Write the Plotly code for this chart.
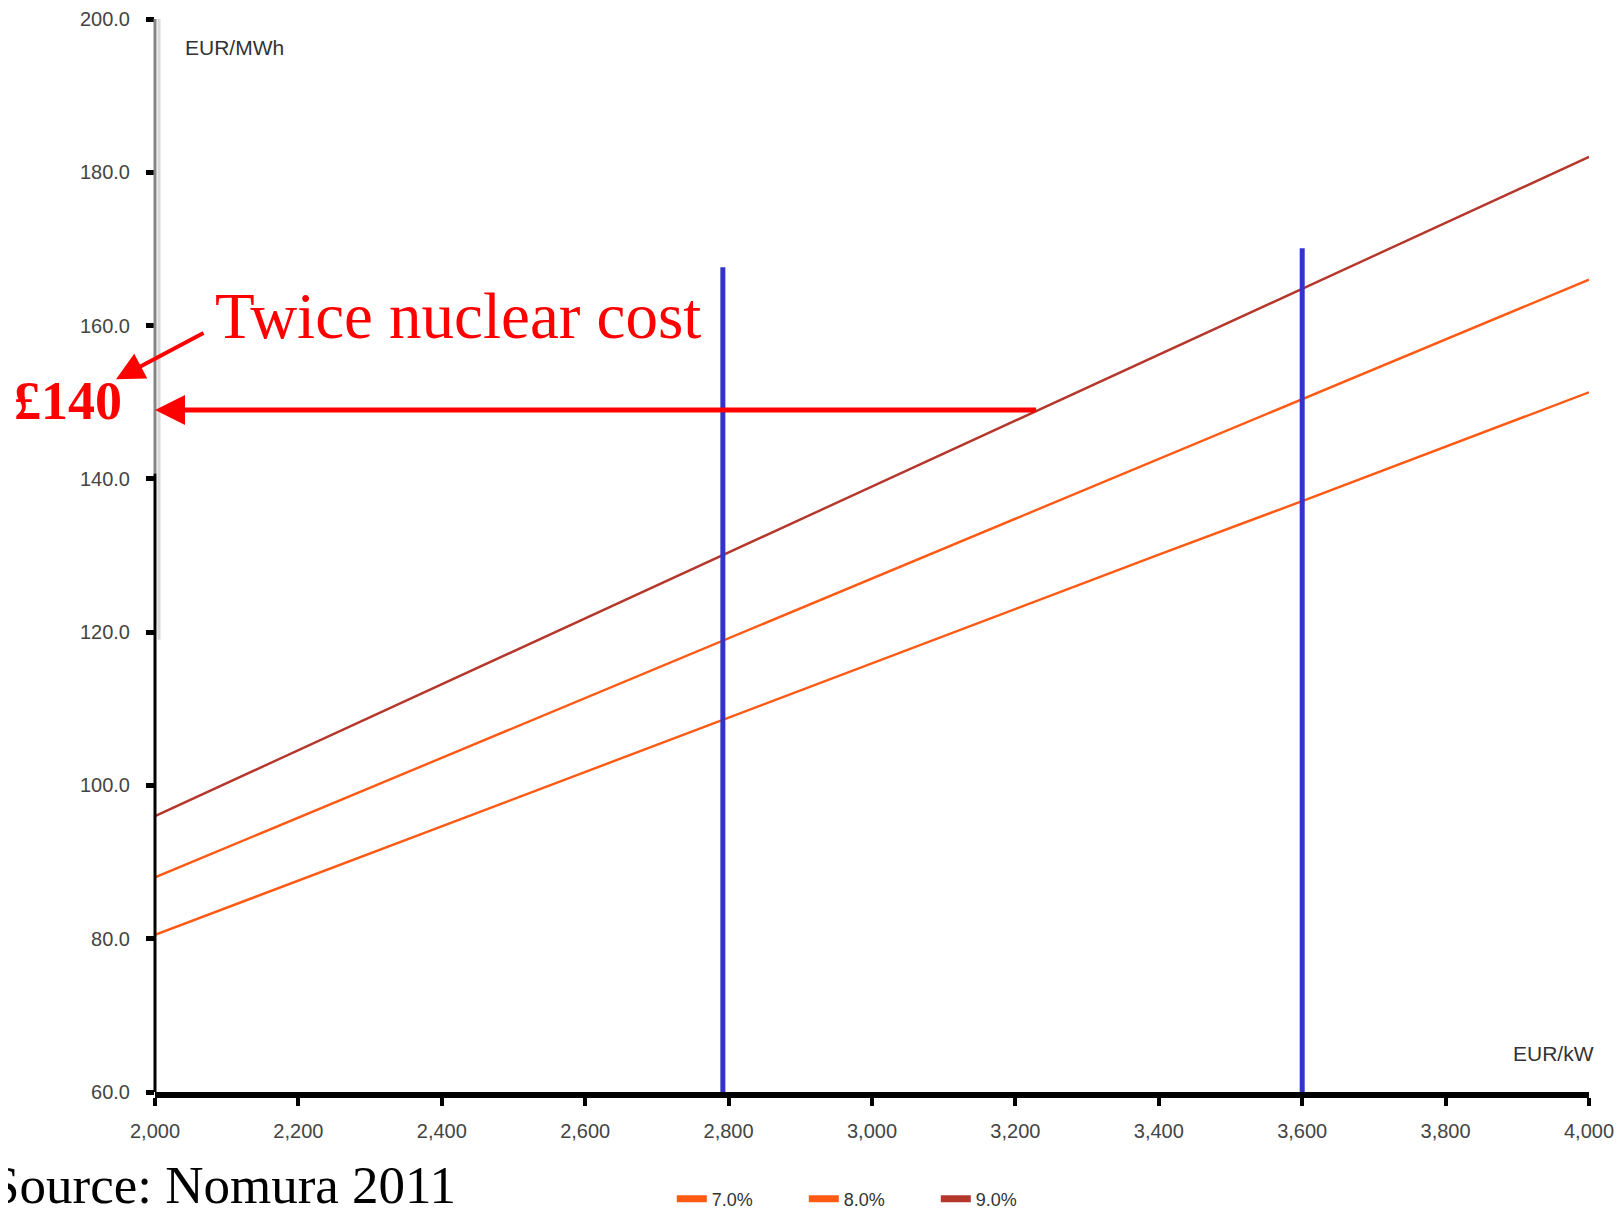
import plotly.graph_objects as go

# ---- data ----
capex = [2000, 2200, 2400, 2600, 2800, 3000, 3200, 3400, 3600, 3800, 4000]
wacc_names = ["7.0%", "8.0%", "9.0%"]
cost_7 = [80.5, 87.6, 94.7, 101.7, 108.8, 115.9, 123.0, 130.1, 137.1, 144.2, 151.3]
cost_8 = [88.0, 95.8, 103.6, 111.4, 119.2, 127.0, 134.8, 142.6, 150.4, 158.2, 166.0]
cost_9 = [96.0, 104.6, 113.2, 121.8, 130.4, 139.0, 147.6, 156.2, 164.8, 173.4, 182.0]
series_colors = ["#ff5a14", "#ff5a14", "#b5372b"]

marker_x = [2792, 3600]          # blue vertical markers (EUR/kW)
marker_top = [167.6, 170.1]      # their top (EUR/MWh)

arrow_level = 149.0              # "£140" level on the y axis
arrow_from_x = 3231              # where the horizontal arrow starts

y_ticks = [60, 80, 100, 120, 140, 160, 180, 200]
x_ticks = [2000, 2200, 2400, 2600, 2800, 3000, 3200, 3400, 3600, 3800, 4000]

# ---- figure ----
fig = go.Figure()

for name, ys, col in zip(wacc_names, [cost_7, cost_8, cost_9], series_colors):
    fig.add_trace(go.Scatter(x=capex, y=ys, mode="lines", name=name,
                             line=dict(color=col, width=2.4), showlegend=False))
    # legend swatch (thicker)
    fig.add_trace(go.Scatter(x=[None], y=[None], mode="lines", name=name,
                             line=dict(color=col, width=7), showlegend=True))

for mx, mt in zip(marker_x, marker_top):
    fig.add_trace(go.Scatter(x=[mx, mx], y=[y_ticks[0], mt], mode="lines",
                             line=dict(color="#3333cc", width=5), showlegend=False,
                             hoverinfo="skip"))

# y axis line: grey upper part, black lower part, pale strip beside
fig.add_shape(type="line", xref="paper", yref="y", x0=0.0028, x1=0.0028, y0=119, y1=200,
              line=dict(color="#d8d8d8", width=3), layer="above")
fig.add_shape(type="line", xref="paper", yref="y", x0=0, x1=0, y0=140.7, y1=200,
              line=dict(color="#858585", width=3), layer="above")
fig.add_shape(type="line", xref="paper", yref="y", x0=0, x1=0, y0=60, y1=140.7,
              line=dict(color="black", width=3), layer="above")

serif = "Liberation Serif, Times New Roman, serif"
sans = "Liberation Sans, Arial, sans-serif"

# horizontal red arrow
fig.add_annotation(x=2000, y=arrow_level, ax=arrow_from_x, ay=arrow_level,
                   xref="x", yref="y", axref="x", ayref="y", text="",
                   showarrow=True, arrowhead=2, arrowsize=1.2, arrowwidth=5,
                   arrowcolor="#ff0000")
# diagonal red arrow
fig.add_annotation(x=-0.0272, y=0.6642, xref="paper", yref="paper", ax=89, ay=-47,
                   text="", showarrow=True, arrowhead=2, arrowsize=1.4, arrowwidth=4,
                   arrowcolor="#ff0000")

fig.add_annotation(x=0.2113, y=0.7229, xref="paper", yref="paper",
                   text="Twice nuclear cost", showarrow=False,
                   font=dict(family=serif, size=65, color="#ff0000"),
                   xanchor="center", yanchor="middle")
fig.add_annotation(x=-0.0607, y=0.6436, xref="paper", yref="paper",
                   text="<b>£140</b>", showarrow=False,
                   font=dict(family=serif, size=54, color="#ff0000"),
                   xanchor="center", yanchor="middle")
fig.add_annotation(x=0.2113, y=-0.0866, xref="paper", yref="paper",
                   text="Source: Nomura 2011", showarrow=False,
                   font=dict(family=serif, size=53, color="black"),
                   xanchor="right", yanchor="middle")
fig.add_annotation(x=0.0195, y=0.9732, xref="paper", yref="paper",
                   text="EUR/MWh", showarrow=False,
                   font=dict(family=sans, size=21, color="#333333"),
                   xanchor="left", yanchor="middle")
fig.add_annotation(x=1.005, y=0.036, xref="paper", yref="paper",
                   text="EUR/kW", showarrow=False,
                   font=dict(family=sans, size=21, color="#333333"),
                   xanchor="right", yanchor="middle")

# page body has an 8px margin: figure is laid out 8px up/left of reference pixels
fig.update_layout(
    width=1615, height=1230,
    margin=dict(l=147, r=34, t=11, b=146),
    plot_bgcolor="white", paper_bgcolor="white",
    showlegend=True,
    legend=dict(orientation="h", x=0.3604, xanchor="left", y=-0.0997,
                yanchor="middle", font=dict(family=sans, size=18, color="#333333"),
                entrywidth=87, entrywidthmode="pixels", bgcolor="rgba(0,0,0,0)"),
)
fig.update_xaxes(range=[2000, 4000], tickvals=x_ticks, tickformat=",",
                 showgrid=False, zeroline=False, showline=True, linecolor="black",
                 linewidth=6, ticks="outside", ticklen=8, tickwidth=4,
                 tickcolor="black", ticklabelstandoff=8, automargin=False,
                 tickfont=dict(family=sans, size=20, color="#444444"))
fig.update_yaxes(range=[60, 200], tickvals=y_ticks, tickformat=".1f",
                 showgrid=False, zeroline=False, showline=False,
                 ticks="outside", ticklen=8, tickwidth=5, tickcolor="black",
                 ticklabelstandoff=12, automargin=False,
                 tickfont=dict(family=sans, size=20, color="#444444"))

fig.write_html("out.html")
